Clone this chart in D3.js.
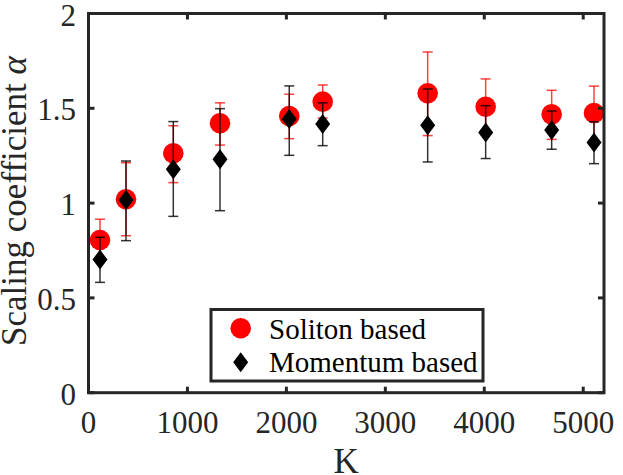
<!DOCTYPE html>
<html>
<head>
<meta charset="utf-8">
<script src="https://cdn.jsdelivr.net/npm/d3@7"></script>
<style>
  html, body { margin: 0; padding: 0; background: #fff; }
  svg { display: block; }
</style>
</head>
<body>
<svg id="chart" width="623" height="475" font-family="'Liberation Serif', 'Times New Roman', serif"></svg>
<script>
// ---- data ----
const K = [116, 379, 857, 1329, 2029, 2367, 3428, 4014, 4681, 5109];
const solitonAlpha = [0.805, 1.02, 1.263, 1.421, 1.459, 1.535, 1.579, 1.508, 1.468, 1.475];
const solitonUpper = [0.915, 1.213, 1.408, 1.529, 1.574, 1.623, 1.797, 1.655, 1.595, 1.617];
const solitonLower = [0.70, 0.828, 1.108, 1.306, 1.340, 1.449, 1.356, 1.370, 1.336, 1.330];
const momentumAlpha = [0.702, 1.016, 1.178, 1.231, 1.443, 1.417, 1.410, 1.373, 1.386, 1.319];
const momentumUpper = [0.820, 1.222, 1.430, 1.498, 1.618, 1.529, 1.602, 1.514, 1.486, 1.429];
const momentumLower = [0.582, 0.802, 0.930, 0.960, 1.252, 1.303, 1.217, 1.235, 1.284, 1.208];
const xTicks = [0, 1000, 2000, 3000, 4000, 5000];
const yTicks = [0, 0.5, 1, 1.5, 2];
const seriesNames = ["Soliton based", "Momentum based"];

// ---- layout ----
const svg = d3.select("#chart");
const pL = 88.5, pR = 604, pT = 13.5, pB = 392.7;
const x = d3.scaleLinear().domain([0, 5210]).range([pL, pR]);
const y = d3.scaleLinear().domain([0, 2]).range([pB, pT]);
const axisColor = "#262626";

// ---- error bars & markers ----
function errorBars(g, lower, upper, color, opacity) {
  const cap = 5;
  K.forEach((k, i) => {
    const cx = x(k);
    g.append("line").attr("x1", cx).attr("x2", cx)
      .attr("y1", y(lower[i])).attr("y2", y(upper[i]))
      .attr("stroke", color).attr("stroke-width", 1.5).attr("stroke-opacity", opacity);
    [lower[i], upper[i]].forEach(v => {
      g.append("line").attr("x1", cx - cap).attr("x2", cx + cap)
        .attr("y1", y(v)).attr("y2", y(v))
        .attr("stroke", color).attr("stroke-width", 1.5).attr("stroke-opacity", opacity);
    });
  });
}
const plot = svg.append("g");
errorBars(plot, solitonLower, solitonUpper, "#ff0000", 0.75);
plot.selectAll("circle.sol").data(K).enter().append("circle")
  .attr("class", "sol")
  .attr("cx", d => x(d)).attr("cy", (d, i) => y(solitonAlpha[i]))
  .attr("r", 10.3).attr("fill", "#ff0000");
errorBars(plot, momentumLower, momentumUpper, "#000000", 0.8);
const diamond = (cx, cy) => `M${cx},${cy - 10}L${cx + 7.5},${cy}L${cx},${cy + 10}L${cx - 7.5},${cy}Z`;
plot.selectAll("path.mom").data(K).enter().append("path")
  .attr("class", "mom")
  .attr("d", (d, i) => diamond(x(d), y(momentumAlpha[i])))
  .attr("fill", "#000");

// ---- axes (box with inward ticks) ----
const tickLen = 6;
const ax = svg.append("g");
ax.append("rect").attr("x", pL).attr("y", pT)
  .attr("width", pR - pL).attr("height", pB - pT)
  .attr("fill", "none").attr("stroke", axisColor).attr("stroke-width", 3);
xTicks.forEach(t => {
  ax.append("line").attr("x1", x(t)).attr("x2", x(t)).attr("y1", pB).attr("y2", pB - tickLen)
    .attr("stroke", axisColor).attr("stroke-width", 3);
  ax.append("line").attr("x1", x(t)).attr("x2", x(t)).attr("y1", pT).attr("y2", pT + tickLen)
    .attr("stroke", axisColor).attr("stroke-width", 3);
  ax.append("text").attr("x", x(t)).attr("y", 432.5).attr("text-anchor", "middle")
    .attr("fill", axisColor).attr("font-size", 31).text(d3.format("d")(t));
});
yTicks.forEach(t => {
  ax.append("line").attr("x1", pL).attr("x2", pL + tickLen).attr("y1", y(t)).attr("y2", y(t))
    .attr("stroke", axisColor).attr("stroke-width", 3);
  ax.append("line").attr("x1", pR).attr("x2", pR - tickLen).attr("y1", y(t)).attr("y2", y(t))
    .attr("stroke", axisColor).attr("stroke-width", 3);
  ax.append("text").attr("x", 76).attr("y", y(t) + 12).attr("text-anchor", "end")
    .attr("fill", axisColor).attr("font-size", 31).text(String(t));
});

// axis labels
svg.append("text").attr("x", (pL + pR) / 2).attr("y", 473).attr("text-anchor", "middle")
  .attr("fill", axisColor).attr("font-size", 35).text("K");
const yl = svg.append("text")
  .attr("transform", `translate(25.5,201) rotate(-90)`)
  .attr("fill", axisColor).attr("text-anchor", "middle").attr("font-size", 35);
yl.append("tspan").text("Scaling coefficient ");
yl.append("tspan").attr("font-style", "italic").text("α");

// ---- legend ----
const lg = svg.append("g");
lg.append("rect").attr("x", 211).attr("y", 309.5).attr("width", 272).attr("height", 71.5)
  .attr("fill", "#fff").attr("stroke", axisColor).attr("stroke-width", 3);
lg.append("circle").attr("cx", 240.7).attr("cy", 328.3).attr("r", 10.3).attr("fill", "#ff0000");
lg.append("path").attr("d", diamond(240.7, 362.3)).attr("fill", "#000");
lg.append("text").attr("x", 269).attr("y", 338.5).attr("font-size", 29).attr("fill", "#000").text(seriesNames[0]);
lg.append("text").attr("x", 269).attr("y", 371.5).attr("font-size", 29).attr("fill", "#000").text(seriesNames[1]);
</script>
</body>
</html>
